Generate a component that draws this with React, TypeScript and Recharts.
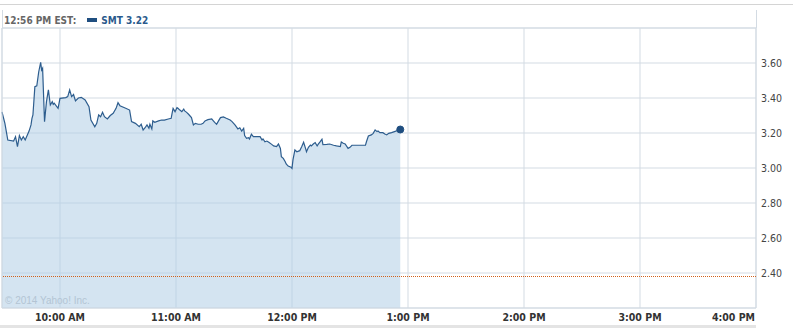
import {
  ComposedChart,
  Area,
  XAxis,
  YAxis,
  CartesianGrid,
  ReferenceLine,
  ReferenceDot,
  ReferenceArea,
} from "recharts";

// minutes since midnight (9:30 = 570)
const times = [
  570, 571.5, 573, 576, 577, 578, 579, 580, 581, 582, 584, 585, 585.5, 586, 587, 588, 589, 590, 590.5, 591,
  592, 593, 594, 595, 596, 596.5, 597, 599, 600, 603, 604, 605, 606, 607, 608, 609.5, 611, 613, 615, 616,
  618, 619, 620, 621, 622, 623, 624.5, 626, 627.5, 629, 630, 631, 634, 636, 637, 639, 641, 642, 643, 644,
  645, 646, 646.5, 647.5, 648, 649, 651, 652.5, 654, 656, 657.5, 658, 658.5, 659.5, 660.5, 661, 662, 663, 664, 664.5,
  665.5, 666.5, 668, 669, 670, 671.5, 673, 674, 675, 676.5, 678.5, 679, 680, 681, 682, 683, 684.5, 686, 688, 689,
  690.5, 692, 693, 694, 695, 695.5, 696.5, 697.5, 698, 699, 700, 702, 703.5, 704.5, 705, 706, 707, 708, 709.5, 710.5,
  712, 713, 714, 714.5, 715.5, 716.5, 717, 718, 719.5, 720, 720.5, 721.5, 722.5, 724, 725, 726, 727, 727.5, 728.5, 729.5,
  730, 731, 732, 733, 733.5, 734.5, 735.5, 736, 738, 739.5, 741.5, 743, 745, 745.5, 746.5, 747.5, 749, 750, 751, 753.5,
  755, 758, 758.5, 759.5, 761, 762, 763, 764, 764.5, 765.5, 767, 768, 769, 770, 771.5, 773, 776,
];

const prices = [
  3.32, 3.255, 3.16, 3.154, 3.179, 3.122, 3.185, 3.16, 3.179, 3.16, 3.211, 3.246, 3.284, 3.303, 3.465, 3.47, 3.55, 3.604, 3.56, 3.57,
  3.265, 3.379, 3.446, 3.36, 3.379, 3.364, 3.37, 3.341, 3.398, 3.402, 3.408, 3.446, 3.408, 3.42, 3.383, 3.4, 3.404, 3.389, 3.35, 3.274,
  3.236, 3.255, 3.303, 3.293, 3.318, 3.293, 3.28, 3.3, 3.313, 3.341, 3.373, 3.356, 3.341, 3.331, 3.265, 3.255, 3.236, 3.25, 3.217, 3.23,
  3.246, 3.227, 3.25, 3.223, 3.269, 3.261, 3.269, 3.274, 3.274, 3.28, 3.284, 3.313, 3.341, 3.322, 3.345, 3.341, 3.331, 3.322, 3.337, 3.326,
  3.318, 3.307, 3.288, 3.246, 3.255, 3.25, 3.25, 3.255, 3.269, 3.276, 3.28, 3.274, 3.261, 3.25, 3.269, 3.288, 3.292, 3.284, 3.274, 3.265,
  3.246, 3.223, 3.23, 3.211, 3.227, 3.185, 3.17, 3.173, 3.166, 3.193, 3.179, 3.179, 3.179, 3.16, 3.166, 3.15, 3.154, 3.147, 3.135, 3.126,
  3.122, 3.137, 3.112, 3.065, 3.055, 3.036, 3.023, 3.011, 3.004, 2.998, 3.046, 3.103, 3.093, 3.099, 3.122, 3.147, 3.112, 3.093, 3.118, 3.131,
  3.126, 3.137, 3.145, 3.126, 3.135, 3.149, 3.164, 3.133, 3.135, 3.137, 3.13, 3.126, 3.122, 3.149, 3.141, 3.137, 3.112, 3.118, 3.13, 3.13,
  3.13, 3.131, 3.15, 3.183, 3.189, 3.198, 3.217, 3.208, 3.211, 3.202, 3.202, 3.194, 3.189, 3.198, 3.202, 3.208, 3.22,
];

const prevClose = 2.38;
const yTicks = [2.4, 2.6, 2.8, 3.0, 3.2, 3.4, 3.6];
const xTicks = [600, 660, 720, 780, 840, 900, 960];
const xTickLabels = ["10:00 AM", "11:00 AM", "12:00 PM", "1:00 PM", "2:00 PM", "3:00 PM", "4:00 PM"];

const data = times.map((t, i) => ({ t, price: prices[i] }));
const lastT = times[times.length - 1];
const lastP = prices[prices.length - 1];

const FONT = '"DejaVu Sans Condensed", "DejaVu Sans", sans-serif';
const GRID = "#d3dbe3";

const XTick = (props: any) => {
  const { x, y, payload, index } = props;
  const last = index === xTicks.length - 1;
  return (
    <text
      x={last ? x - 1 : x}
      y={y}
      dy="0.71em"
      textAnchor={last ? "end" : "middle"}
      fontFamily={FONT}
      fontStretch="condensed"
      fontWeight="bold"
      fontSize={10.5}
      fill="#333"
    >
      {xTickLabels[xTicks.indexOf(payload.value)]}
    </text>
  );
};

const YTick = (props: any) => {
  const { x, y, payload } = props;
  return (
    <text
      x={x}
      y={y}
      dy="0.355em"
      textAnchor="start"
      fontFamily={FONT}
      fontStretch="condensed"
      fontSize={10.5}
      fill="#444"
    >
      {payload.value.toFixed(2)}
    </text>
  );
};

export default function App() {
  return (
    <div style={{ position: "absolute", left: 0, top: 0, width: 793, height: 328, background: "#fff" }}>
      <div style={{ position: "absolute", left: 0, top: 4, width: 793, height: 1, background: "#d4d4d4" }} />
      <div
        style={{
          position: "absolute",
          left: 2,
          top: 10,
          width: 753,
          height: 18,
          borderLeft: `1px solid ${GRID}`,
          borderRight: `1px solid ${GRID}`,
        }}
      />
      <div
        style={{
          position: "absolute",
          left: 4,
          top: 12,
          height: 16,
          display: "flex",
          alignItems: "center",
          fontFamily: FONT,
          fontStretch: "condensed",
          fontWeight: "bold",
          fontSize: 10,
          whiteSpace: "nowrap",
        }}
      >
        <span style={{ color: "#666" }}>12:56 PM EST:</span>
        <span style={{ display: "inline-block", width: 10, height: 4, background: "#1f4e80", marginLeft: 11, marginRight: 4 }} />
        <span style={{ color: "#2a5a8c" }}>SMT {lastP.toFixed(2)}</span>
      </div>

      <ComposedChart width={793} height={328} data={data} margin={{ top: 28, right: 0, bottom: 0, left: 2 }}>
        <CartesianGrid stroke={GRID} />
        <XAxis
          dataKey="t"
          type="number"
          domain={[570, 960]}
          ticks={xTicks}
          axisLine={false}
          tickLine={false}
          height={20}
          tickSize={6}
          tickMargin={0}
          tick={<XTick />}
          interval={0}
        />
        <YAxis
          orientation="right"
          type="number"
          domain={[2.2, 3.8]}
          ticks={yTicks}
          axisLine={false}
          tickLine={false}
          width={37}
          tickSize={5}
          tickMargin={0}
          tick={<YTick />}
          interval={0}
        />
        <Area
          type="linear"
          dataKey="price"
          stroke="#2d5d8e"
          strokeWidth={1.2}
          fill="#b0cde6"
          fillOpacity={0.55}
          dot={false}
          activeDot={false}
          isAnimationActive={false}
        />
        <ReferenceLine y={prevClose} stroke="#d0621e" strokeDasharray="1 1" />
        <ReferenceArea x1={570} x2={960} y1={2.2} y2={3.8} fill="none" stroke={GRID} />
        <ReferenceDot x={lastT} y={lastP} r={3.5} fill="#1f4e80" stroke="#1f4e80" />
      </ComposedChart>

      <div
        style={{
          position: "absolute",
          left: 5,
          top: 295,
          fontFamily: '"Liberation Sans", Arial, sans-serif',
          fontSize: 10,
          color: "#b3c4d4",
          whiteSpace: "nowrap",
        }}
      >
        © 2014 Yahoo! Inc.
      </div>
      <div style={{ position: "absolute", left: 0, top: 325, width: 756, height: 3, background: "#e4e4e4" }} />
    </div>
  );
}
